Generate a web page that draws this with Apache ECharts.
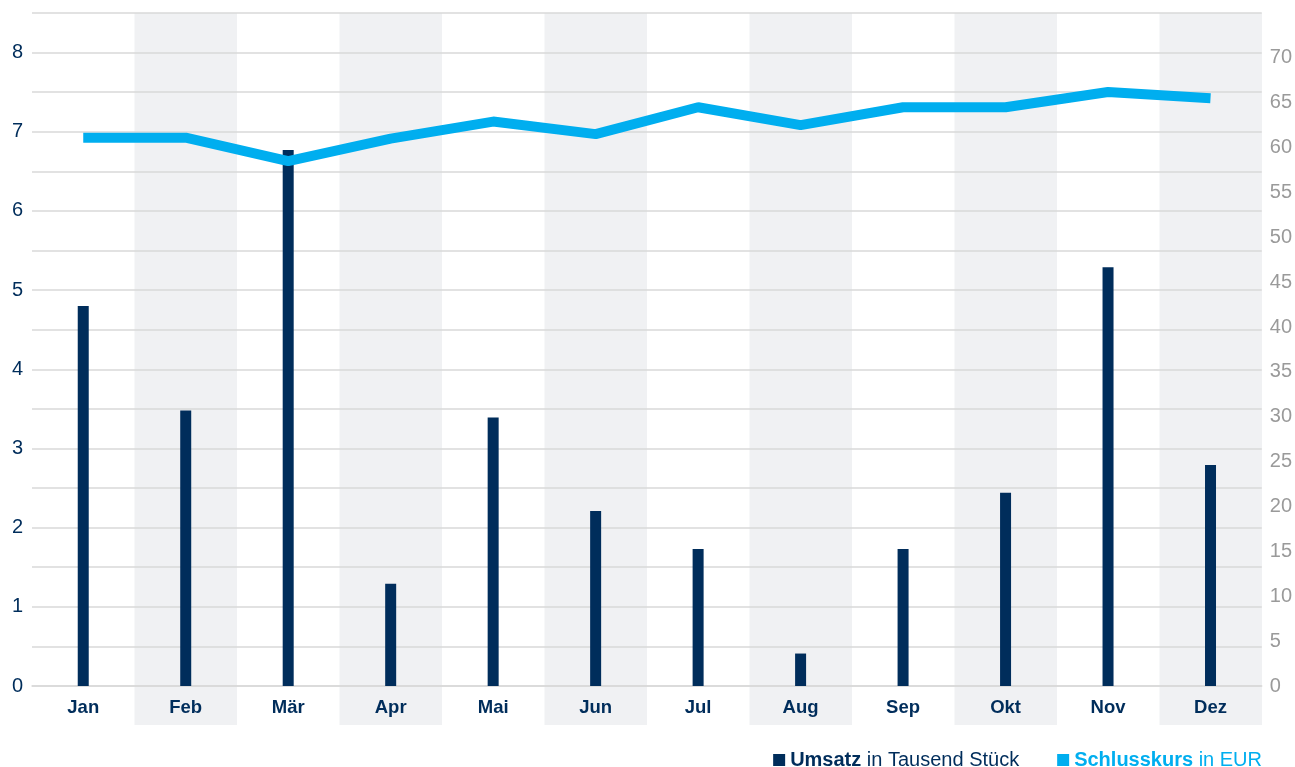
<!DOCTYPE html>
<html><head><meta charset="utf-8">
<script src="https://cdn.jsdelivr.net/npm/echarts@6/dist/echarts.min.js"></script>
<style>html,body{margin:0;padding:0;background:#fff}#c{width:1295px;height:767px}</style>
</head><body><div id="c"></div>
<script>
const categories = ['Jan','Feb','Mär','Apr','Mai','Jun','Jul','Aug','Sep','Okt','Nov','Dez'];
const umsatz = [4.80, 3.48, 6.77, 1.29, 3.39, 2.21, 1.73, 0.41, 1.73, 2.44, 5.29, 2.79];
const schlusskurs = [61.1, 61.1, 58.5, 61.0, 62.9, 61.5, 64.5, 62.5, 64.5, 64.5, 66.2, 65.5];
const leftTicks = {min: 0, max: 8.5, interval: 0.5};
const rightTicks = {min: 0, max: 75, interval: 5};

const navy = '#002d5b', cyan = '#00aeef', grid = '#d9d9d9', band = '#f0f1f3';
const font = 'Liberation Sans';
const chart = echarts.init(document.getElementById('c'));
chart.setOption({
  animation: false,
  textStyle: {fontFamily: font},
  grid: [
    {left: 32, right: 33, top: 13, bottom: 81, containLabel: false},
    {left: 32, right: 33, top: 13, bottom: 42, containLabel: false}
  ],
  xAxis: [
    {type: 'category', gridIndex: 1, data: categories, z: -1,
     axisLine: {show: false}, axisTick: {show: false}, axisLabel: {show: false},
     splitArea: {show: true, areaStyle: {color: ['rgba(0,0,0,0)', band]}}},
    {type: 'category', gridIndex: 0, data: categories,
     axisLine: {show: true, lineStyle: {color: grid, width: 1.5}}, axisTick: {show: false},
     axisLabel: {color: navy, fontWeight: 'bold', fontSize: 18.5, margin: 12, fontFamily: font}}
  ],
  yAxis: [
    {type: 'value', gridIndex: 1, show: false, splitLine: {show: false}},
    {type: 'value', gridIndex: 0, min: leftTicks.min, max: leftTicks.max, interval: leftTicks.interval,
     axisLine: {show: false}, axisTick: {show: false},
     splitLine: {lineStyle: {color: grid, width: 1.5}},
     axisLabel: {color: navy, fontSize: 20, margin: 9, fontFamily: font,
       formatter: v => (Math.abs(v - Math.round(v)) < 1e-6 && v <= 8) ? String(Math.round(v)) : ''}},
    {type: 'value', gridIndex: 0, position: 'right', min: rightTicks.min, max: rightTicks.max, interval: rightTicks.interval,
     axisLine: {show: false}, axisTick: {show: false}, splitLine: {show: false},
     axisLabel: {color: '#9a9a9a', fontSize: 20, margin: 8, fontFamily: font,
       formatter: v => v < 75 ? String(v) : ''}}
  ],
  legend: {
    top: 750, right: 33, itemWidth: 12, itemHeight: 12, itemGap: 38,
    icon: 'rect', padding: 0,
    data: [
      {name: 'Umsatz', textStyle: {color: navy}},
      {name: 'Schlusskurs', textStyle: {color: cyan}}
    ],
    textStyle: {fontSize: 20, fontFamily: font,
      rich: {b: {fontWeight: 'bold', fontSize: 20, fontFamily: font}}},
    formatter: n => n === 'Umsatz' ? '{b|Umsatz} in Tausend Stück' : '{b|Schlusskurs} in EUR'
  },
  series: [
    {name: 'Umsatz', type: 'bar', xAxisIndex: 1, yAxisIndex: 1, data: umsatz,
     barWidth: 11, itemStyle: {color: navy}, z: 2},
    {name: 'Schlusskurs', type: 'line', xAxisIndex: 1, yAxisIndex: 2, data: schlusskurs,
     symbol: 'none', lineStyle: {color: cyan, width: 10, cap: 'butt', join: 'bevel'},
     itemStyle: {color: cyan}, z: 3}
  ]
});
</script></body></html>
